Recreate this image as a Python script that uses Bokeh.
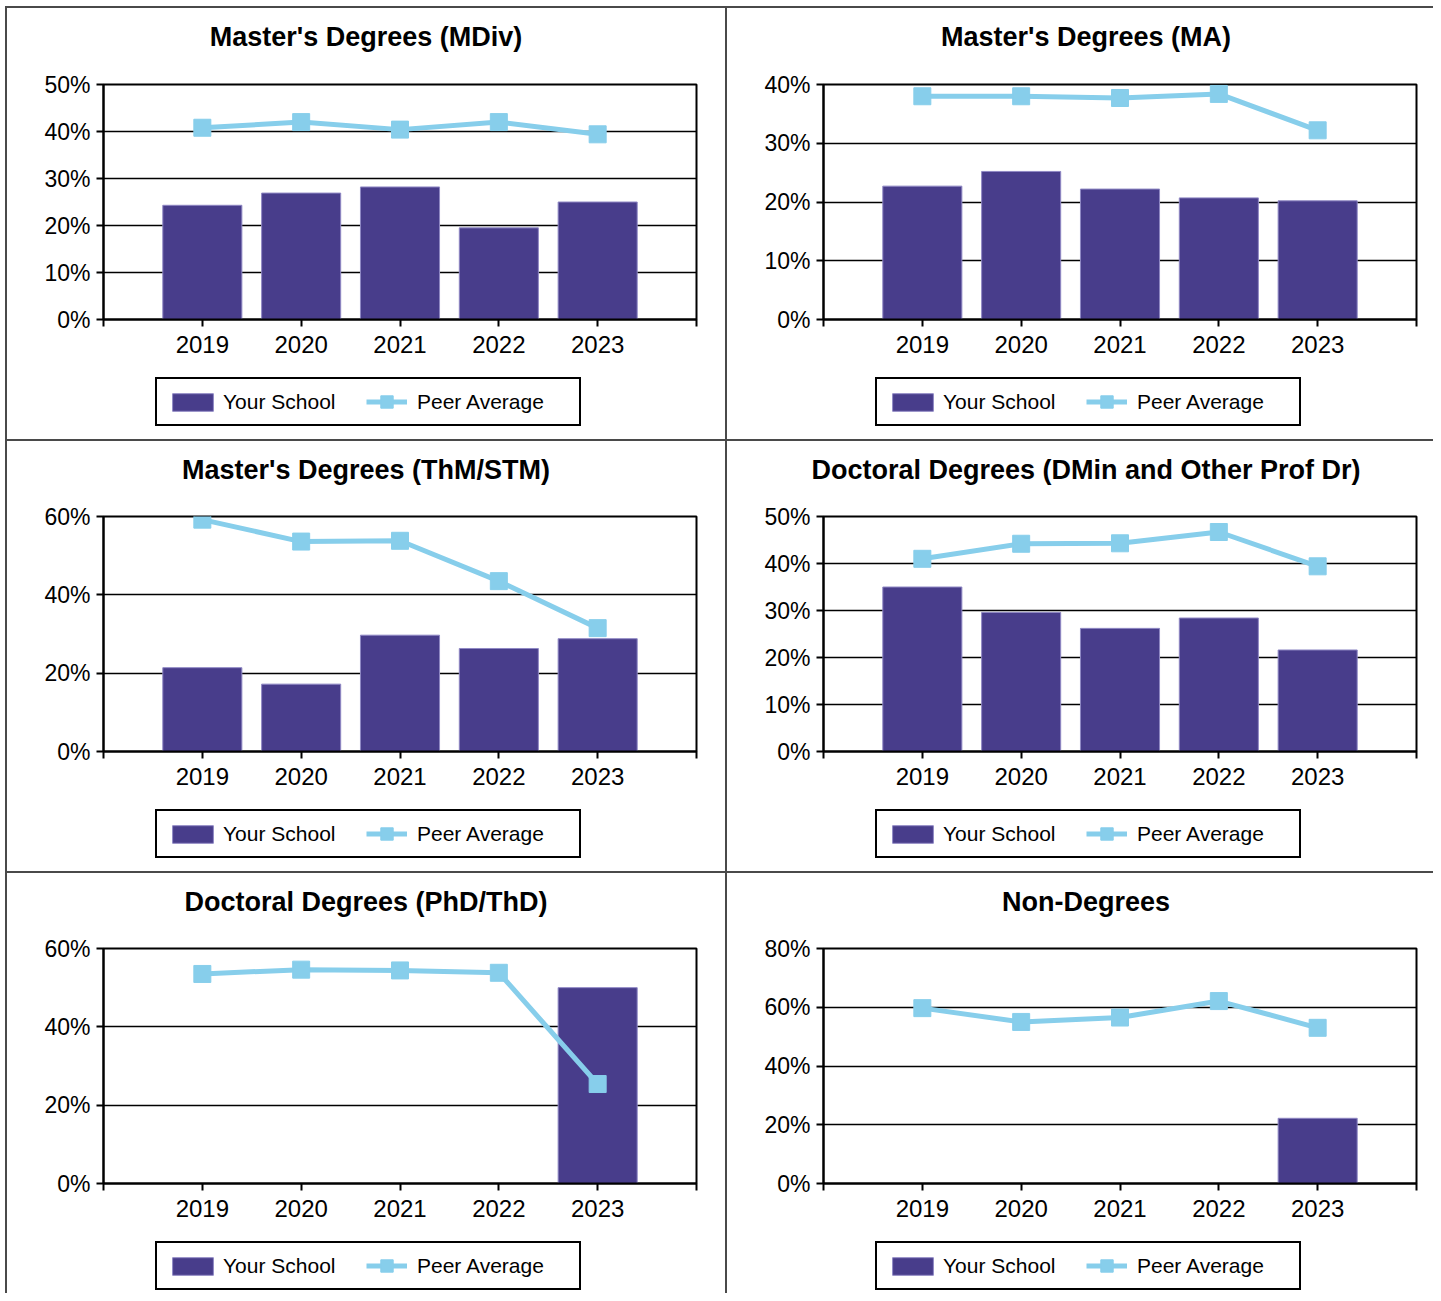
import numpy as np
from bokeh.plotting import figure
from bokeh.layouts import column, row
from bokeh.models import (Range1d, FixedTicker, PrintfTickFormatter, Legend,
                          LegendItem, ColumnDataSource, Spacer, Div)
from bokeh.embed import file_html
from bokeh.resources import INLINE

years = ["2019", "2020", "2021", "2022", "2023"]

titles = ["Master's Degrees (MDiv)", "Master's Degrees (MA)",
          "Master's Degrees (ThM/STM)", "Doctoral Degrees (DMin and Other Prof Dr)",
          "Doctoral Degrees (PhD/ThD)", "Non-Degrees"]

mdiv_school = [24.3, 26.9, 28.2, 19.5, 25.0]
mdiv_peer = [40.8, 42.0, 40.4, 42.0, 39.4]
ma_school = [22.7, 25.2, 22.2, 20.7, 20.2]
ma_peer = [38.0, 38.0, 37.7, 38.4, 32.2]
thm_school = [21.4, 17.2, 29.7, 26.3, 28.8]
thm_peer = [59.2, 53.6, 53.8, 43.5, 31.5]
dmin_school = [35.0, 29.6, 26.2, 28.4, 21.6]
dmin_peer = [41.0, 44.2, 44.3, 46.7, 39.4]
phd_school = [None, None, None, None, 50.0]
phd_peer = [53.5, 54.6, 54.4, 53.8, 25.4]
non_school = [None, None, None, None, 22.2]
non_peer = [59.7, 55.0, 56.5, 62.1, 53.0]

y_max = [50, 40, 60, 50, 60, 80]
y_step = [10, 10, 20, 10, 20, 20]

school_series = [mdiv_school, ma_school, thm_school, dmin_school, phd_school, non_school]
peer_series = [mdiv_peer, ma_peer, thm_peer, dmin_peer, phd_peer, non_peer]

BAR = "#483D8B"
BAR_EDGE = "#8f88c4"
PEER = "#87CEEB"
FONT = "Liberation Sans"

# layout (pixels)
col_w = [718, 706]
title_h = 58
title_indent = ["0px", "12px"]
chart_top = [18, 17, 17]
chart_bottom = 50
frame_h = 235
leg_h = [70, 70, 60]
left_b = [96, 96]
right_b = [29, 17]
leg_y = [13, 13, 3]
leg_x = 52
peer_leg_x = 263


def style_legend(lg):
    lg.margin = 0
    lg.label_height = 25
    lg.label_text_font = FONT
    lg.label_text_font_size = "21px"
    lg.label_text_color = "black"


def make_legend_fig(w, h, ly):
    q = figure(width=w, height=h, output_backend="svg", toolbar_location=None,
               x_range=Range1d(0, 1), y_range=Range1d(0, 1),
               x_axis_type=None, y_axis_type=None)
    q.min_border_left = 0
    q.min_border_right = 0
    q.min_border_top = 0
    q.min_border_bottom = 0
    q.outline_line_color = None
    q.xgrid.grid_line_color = None
    q.ygrid.grid_line_color = None
    q.background_fill_color = "white"
    q.border_fill_color = "white"
    # legend-only renderers: their single point lies outside the visible range
    hidden = ColumnDataSource(dict(x=[-5.0], y=[-5.0]))
    b = q.vbar(x="x", top="y", width=0.8, source=hidden, fill_color=BAR,
               line_color=BAR_EDGE, line_width=1)
    l = q.line(x="x", y="y", source=hidden, line_color=PEER, line_width=5)
    s = q.scatter(x="x", y="y", source=hidden, marker="square", size=17,
                  fill_color=PEER, line_color=PEER)

    box = Legend(items=[LegendItem(label="Your School", renderers=[b])],
                 location=(leg_x, ly), orientation="horizontal")
    style_legend(box)
    box.padding = 10
    box.glyph_width = 51
    box.glyph_height = 22
    box.label_standoff = 5
    box.label_width = 346
    box.border_line_color = "black"
    box.border_line_width = 2
    box.border_line_alpha = 1.0
    box.background_fill_color = "white"
    box.background_fill_alpha = 1.0
    q.add_layout(box)

    peer = Legend(items=[LegendItem(label="Peer Average", renderers=[l, s])],
                  location=(peer_leg_x, ly + 9), orientation="horizontal")
    style_legend(peer)
    peer.padding = 0
    peer.glyph_width = 41
    peer.glyph_height = 31
    peer.label_standoff = 10
    peer.border_line_color = None
    peer.background_fill_alpha = 0.0
    q.add_layout(peer)
    return q


cells = []
for i in range(6):
    r, c = divmod(i, 2)
    n = len(years)
    xs = list(range(1, n + 1))
    tops = np.array([np.nan if v is None else v for v in school_series[i]], dtype=float)
    src = ColumnDataSource(dict(x=xs, school=tops, peer=peer_series[i]))

    head = Div(text=titles[i], width=col_w[c], height=title_h,
               styles={"font-family": FONT, "font-weight": "bold",
                       "font-size": "27px", "color": "black",
                       "text-align": "center", "line-height": f"{title_h}px",
                       "text-indent": title_indent[c], "white-space": "nowrap",
                       "background-color": "white", "margin": "0",
                       "padding": "0", "overflow": "hidden"})

    p = figure(width=col_w[c], height=chart_top[r] + frame_h + chart_bottom,
               output_backend="svg", toolbar_location=None, title=None,
               x_range=Range1d(0, n + 1), y_range=Range1d(0, y_max[i]))
    p.min_border_left = left_b[c]
    p.min_border_right = right_b[c]
    p.min_border_top = chart_top[r]
    p.min_border_bottom = chart_bottom
    p.background_fill_color = "white"
    p.border_fill_color = "white"
    p.outline_line_color = "black"
    p.outline_line_width = 2

    p.vbar(x="x", top="school", bottom=0, width=0.8, source=src,
           fill_color=BAR, line_color=BAR_EDGE, line_width=1)
    p.line(x="x", y="peer", source=src, line_color=PEER, line_width=5)
    p.scatter(x="x", y="peer", source=src, marker="square", size=17,
              fill_color=PEER, line_color=PEER)

    ticks = list(range(0, n + 2))
    p.xaxis.ticker = FixedTicker(ticks=ticks)
    overrides = {0: "", n + 1: ""}
    for k, yv in enumerate(years):
        overrides[k + 1] = yv
    p.xaxis.major_label_overrides = overrides
    p.yaxis.ticker = FixedTicker(ticks=list(range(0, y_max[i] + 1, y_step[i])))
    p.yaxis.formatter = PrintfTickFormatter(format="%d%%")

    for ax in (p.xaxis[0], p.yaxis[0]):
        ax.axis_line_color = "black"
        ax.axis_line_width = 2
        ax.major_tick_line_color = "black"
        ax.major_tick_line_width = 2
        ax.major_tick_in = 0
        ax.major_tick_out = 7
        ax.minor_tick_line_color = None
        ax.major_label_text_font = FONT
        ax.major_label_text_color = "black"
    p.xaxis.major_label_standoff = 9
    p.yaxis.major_label_standoff = 6
    p.xaxis.major_label_text_font_size = "24px"
    p.yaxis.major_label_text_font_size = "23px"

    p.xgrid.grid_line_color = None
    p.ygrid.grid_line_color = "black"
    p.ygrid.grid_line_width = 1.6

    q = make_legend_fig(col_w[c], leg_h[r], leg_y[r])
    cells.append(column(head, p, q, spacing=0, styles={"background-color": "white"}))

grid = column(row(cells[0], cells[1], spacing=2),
              row(cells[2], cells[3], spacing=2),
              row(cells[4], cells[5], spacing=2),
              spacing=2,
              styles={"background-color": "#4a4a4a", "padding-top": "2px",
                      "padding-left": "2px"})

root = column(Spacer(height=6, width=10), row(Spacer(width=5, height=10), grid),
              spacing=0)

open("out.html", "w").write(file_html(root, INLINE))
